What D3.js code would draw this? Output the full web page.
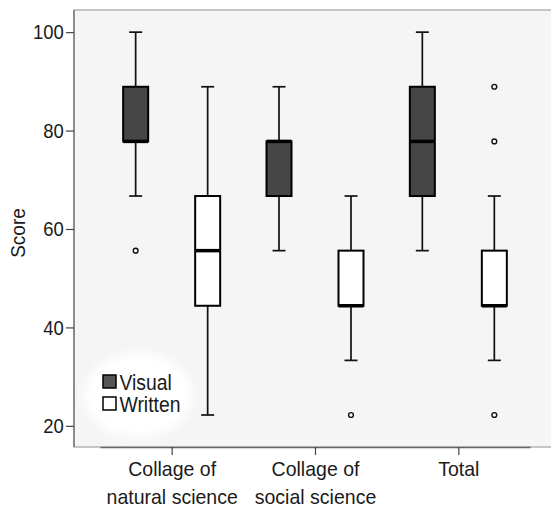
<!DOCTYPE html>
<html>
<head>
<meta charset="utf-8">
<script src="https://cdn.jsdelivr.net/npm/d3@7"></script>
<style>
  body { margin: 0; background: #fff; }
  text { font-family: "Liberation Sans", Arial, sans-serif; fill: #1a1a1a; }
</style>
</head>
<body>
<script>
// categories and groups
var categories = ["Collage of natural science", "Collage of social science", "Total"];
var catLines = [["Collage of", "natural science"], ["Collage of", "social science"], ["Total"]];
var series = ["Visual", "Written"];

// box stats per category: [lower whisker, Q1, median, Q3, upper whisker]
var visualBox = [[66.7, 77.8, 77.8, 88.9, 100], [55.6, 66.7, 77.8, 77.8, 88.9], [55.6, 66.7, 77.8, 88.9, 100]];
var writtenBox = [[22.2, 44.4, 55.6, 66.7, 88.9], [33.3, 44.4, 44.4, 55.6, 66.7], [33.3, 44.4, 44.4, 55.6, 66.7]];
var visualOut = [[55.6], [], []];
var writtenOut = [[], [22.2], [22.2, 77.8, 88.9]];

var yTicks = [20, 40, 60, 80, 100];

var width = 551, height = 511;
var svg = d3.select("body").append("svg").attr("width", width).attr("height", height);

var x = d3.scalePoint().domain(categories).range([100, 530]).padding(0.5);
var off = d3.scalePoint().domain(series).range([-36, 36]);
var y = d3.scaleLinear().domain([15.7, 104.5]).range([447, 10]);

var defs = svg.append("defs");
defs.append("filter").attr("id", "soft").attr("x", "-30%").attr("y", "-30%").attr("width", "160%").attr("height", "160%")
  .append("feGaussianBlur").attr("stdDeviation", 4);

// panel
svg.append("rect").attr("x", 74).attr("y", 10).attr("width", 490).attr("height", 437)
  .attr("fill", "#f5f5f5").attr("stroke", "#b5b5b5").attr("stroke-width", 1.5);

// legend backdrop
svg.append("ellipse").attr("cx", 138).attr("cy", 395).attr("rx", 54).attr("ry", 42)
  .attr("fill", "#fff").attr("filter", "url(#soft)");

// axes
var yAxis = d3.axisLeft(y).tickValues(yTicks).tickSize(8).tickPadding(3);
var gy = svg.append("g").attr("transform", "translate(74,0)").call(yAxis);
gy.select(".domain").attr("stroke", "#777").attr("stroke-width", 1.5).attr("d", "M0," + y.range()[1] + "V" + y.range()[0]);
gy.selectAll(".tick line").attr("stroke", "#444").attr("stroke-width", 1.2);
gy.selectAll(".tick text").style("font-size", "21px").attr("fill", "#1a1a1a")
  .attr("x", -11.5).attr("transform", "scale(0.88,1)");

var xAxis = d3.axisBottom(x).tickSize(8).tickSizeOuter(0).tickFormat("");
var gx = svg.append("g").attr("transform", "translate(0,447)").call(xAxis);
gx.select(".domain").attr("stroke", "#666").attr("stroke-width", 1.5);
gx.selectAll(".tick line").attr("stroke", "#444").attr("stroke-width", 1.2);

gx.selectAll(".tick").each(function(d, i) {
  var t = d3.select(this).append("text").attr("text-anchor", "middle").style("font-size", "21px")
    .attr("fill", "#1a1a1a").attr("transform", "scale(0.93,1)");
  catLines[i].forEach(function(s, j) {
    t.append("tspan").attr("x", 0).attr("y", 29 + j * 28).text(s);
  });
});

svg.append("text").attr("transform", "translate(25,233) rotate(-90) scale(0.95,1)").attr("text-anchor", "middle")
  .style("font-size", "20px").text("Score");

// boxes
var boxW = 25, capW = 13;
var fills = { Visual: "#464646", Written: "#ffffff" };
var groups = [
  { s: "Visual", box: visualBox, out: visualOut },
  { s: "Written", box: writtenBox, out: writtenOut }
];

groups.forEach(function(g) {
  var layer = svg.append("g");
  categories.forEach(function(c, i) {
    var b = g.box[i];
    var cx = x(c) + off(g.s);
    // whiskers
    layer.append("line").attr("x1", cx).attr("x2", cx).attr("y1", y(b[4])).attr("y2", y(b[3]))
      .attr("stroke", "#111").attr("stroke-width", 1.7);
    layer.append("line").attr("x1", cx).attr("x2", cx).attr("y1", y(b[1])).attr("y2", y(b[0]))
      .attr("stroke", "#111").attr("stroke-width", 1.7);
    [b[0], b[4]].forEach(function(v) {
      layer.append("line").attr("x1", cx - capW / 2).attr("x2", cx + capW / 2).attr("y1", y(v)).attr("y2", y(v))
        .attr("stroke", "#111").attr("stroke-width", 1.7);
    });
    layer.append("rect").attr("x", cx - boxW / 2).attr("width", boxW)
      .attr("y", y(b[3])).attr("height", y(b[1]) - y(b[3]))
      .attr("fill", fills[g.s]).attr("stroke", "#000").attr("stroke-width", 2);
    layer.append("line").attr("x1", cx - boxW / 2).attr("x2", cx + boxW / 2).attr("y1", y(b[2])).attr("y2", y(b[2]))
      .attr("stroke", "#000").attr("stroke-width", 3.5);
    g.out[i].forEach(function(v) {
      layer.append("circle").attr("cx", cx).attr("cy", y(v)).attr("r", 2.4)
        .attr("fill", "#fff").attr("stroke", "#111").attr("stroke-width", 1.4);
    });
  });
});

// legend
var leg = svg.append("g").attr("transform", "translate(103,375)");
series.forEach(function(s, i) {
  var r = leg.append("g").attr("transform", "translate(0," + (i * 22) + ")");
  r.append("rect").attr("width", 13).attr("height", 13).attr("fill", s === "Visual" ? "#555" : "#fff")
    .attr("stroke", "#000").attr("stroke-width", 1.5);
  r.append("text").attr("x", 16.5 / 0.88).attr("y", 14.5).attr("transform", "scale(0.88,1)")
    .style("font-size", "22px").text(s);
});
</script>
</body>
</html>
